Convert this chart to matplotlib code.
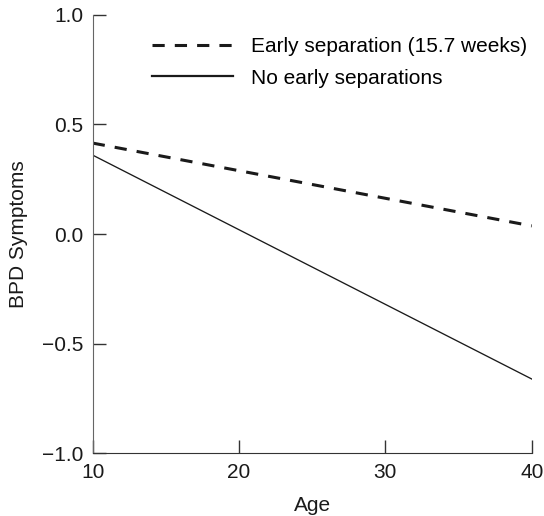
import matplotlib
matplotlib.use("Agg")
import matplotlib.pyplot as plt
from matplotlib.lines import Line2D

plt.rcParams['font.family'] = ['Liberation Sans', 'DejaVu Sans']
SIZE = 15

# data: endpoints of the two fitted lines
ages = [10, 40]
early_sep = [0.415, 0.037]
no_sep = [0.36, -0.662]
labels = ["Early separation (15.7 weeks)", "No early separations"]
xticks = [10, 20, 30, 40]
yticks = [-1.0, -0.5, 0.0, 0.5, 1.0]

ink = "#1a1a1a"
dash = (0, (4.0, 3.3))

fig = plt.figure(figsize=(5.44, 5.16), dpi=100)
ax = fig.add_axes([0.1705, 0.122, 0.807, 0.849])

ax.plot(ages, early_sep, color=ink, lw=2.2, linestyle=dash)
ax.plot(ages, no_sep, color=ink, lw=0.95)

ax.set_xlim(10, 40)
ax.set_ylim(-1.0, 1.0)
ax.set_xticks(xticks)
ax.set_yticks(yticks)
ax.set_yticklabels([f"{v:.1f}".replace("-", "\u2212") for v in yticks])
ax.tick_params(axis='both', direction='in', length=9.3, width=1.0, color="#333333",
               labelsize=SIZE, labelcolor=ink)
ax.tick_params(axis='y', pad=6.5)
ax.tick_params(axis='x', pad=7)
for s in ["top", "right"]:
    ax.spines[s].set_visible(False)
ax.spines["left"].set_color("#666666")
ax.spines["bottom"].set_color("#333333")

ax.set_xlabel("Age", fontsize=SIZE, color=ink)
ax.xaxis.set_label_coords(0.5, -0.097)
ax.set_ylabel("BPD Symptoms", fontsize=SIZE, color=ink)
ax.yaxis.set_label_coords(-0.147, 0.5)

# legend handles (solid sample drawn a bit heavier, as in the original)
handles = [Line2D([], [], color=ink, lw=2.2, linestyle=dash),
           Line2D([], [], color=ink, lw=1.6)]
ax.legend(handles, labels, loc="upper left", bbox_to_anchor=(0.136, 0.950),
          frameon=False, fontsize=SIZE, handlelength=3.85, handletextpad=0.88,
          labelspacing=0.62, borderpad=0, borderaxespad=0)

fig.savefig("out.png", dpi=100)
